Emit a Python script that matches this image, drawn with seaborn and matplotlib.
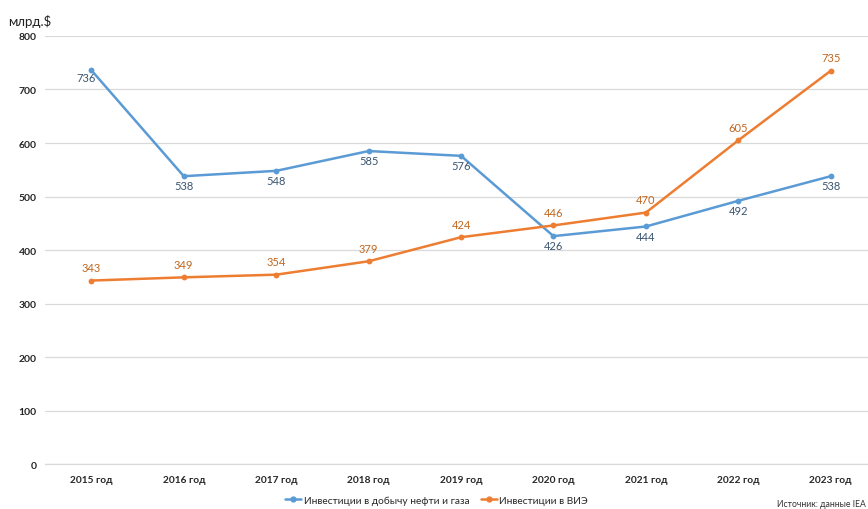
import matplotlib
matplotlib.use("Agg")
import matplotlib.pyplot as plt
import seaborn as sns
import pandas as pd

years = ["2015 год", "2016 год", "2017 год", "2018 год", "2019 год",
         "2020 год", "2021 год", "2022 год", "2023 год"]
oil_gas = [736, 538, 548, 585, 576, 426, 444, 492, 538]
renewables = [343, 349, 354, 379, 424, 446, 470, 605, 735]
series_names = ["Инвестиции в добычу нефти и газа", "Инвестиции в ВИЭ"]
y_ticks = [0, 100, 200, 300, 400, 500, 600, 700, 800]

sns.set_theme(style="white")
plt.rcParams["font.family"] = ["Lato", "DejaVu Sans"]

blue = "#5B9BD5"
orange = "#ED7D31"

df = pd.DataFrame({
    "year": years * 2,
    "pos": list(range(len(years))) * 2,
    "value": oil_gas + renewables,
    "series": [series_names[0]] * len(years) + [series_names[1]] * len(years),
})

fig = plt.figure(figsize=(8.68, 5.10), dpi=100)
ax = fig.add_axes([0.052, 0.088, 0.953, 0.8395])

sns.lineplot(data=df, x="pos", y="value", hue="series",
             palette=[blue, orange], marker="o", markersize=4.2,
             markeredgewidth=0, linewidth=1.8, ax=ax, legend=False)

ax.set_xlim(-0.5, 8.45)
ax.set_ylim(0, 800)
ax.set_yticks(y_ticks)
ax.set_yticklabels([str(t) for t in y_ticks], fontsize=7.5, fontweight="bold")
ax.set_xticks(range(len(years)))
ax.set_xticklabels(years, fontsize=7.3, fontweight="bold")
ax.tick_params(axis="both", length=0)
ax.tick_params(axis="x", pad=8)
ax.tick_params(axis="y", pad=6)
ax.set_xlabel("")
ax.set_ylabel("")
ax.grid(axis="y", color="#D9D9D9", linewidth=0.9)
ax.set_axisbelow(True)
for side in ["left", "right", "top"]:
    ax.spines[side].set_visible(False)
ax.spines["bottom"].set_color("#D9D9D9")
ax.spines["bottom"].set_linewidth(0.9)

# value labels: gas/oil below the points, renewables above
for i, v in enumerate(oil_gas):
    offset = (-4, -5) if i == 0 else (0, -7)
    ax.annotate(str(v), (i, v), xytext=offset, textcoords="offset points",
                ha="center", va="center", fontsize=8, color="#3A5470")
for i, v in enumerate(renewables):
    ax.annotate(str(v), (i, v), xytext=(0, 9.5), textcoords="offset points",
                ha="center", va="center", fontsize=8, color="#C0661F")

fig.text(0.009, 0.958, "млрд.$", fontsize=9.5, color="#222222", ha="left", va="center")

handles = [plt.Line2D([], [], color=blue, marker="o", markersize=3.5, linewidth=1.8),
           plt.Line2D([], [], color=orange, marker="o", markersize=3.5, linewidth=1.8)]
fig.legend(handles, series_names, loc="center", bbox_to_anchor=(0.503, 0.017),
           ncol=2, frameon=False, fontsize=7.3, handlelength=1.6,
           handletextpad=0.25, columnspacing=1.1)

fig.text(0.998, 0.01, "Источник: данные IEA", fontsize=6.2, color="#333333",
         ha="right", va="center")

fig.savefig("out.png", dpi=100)
